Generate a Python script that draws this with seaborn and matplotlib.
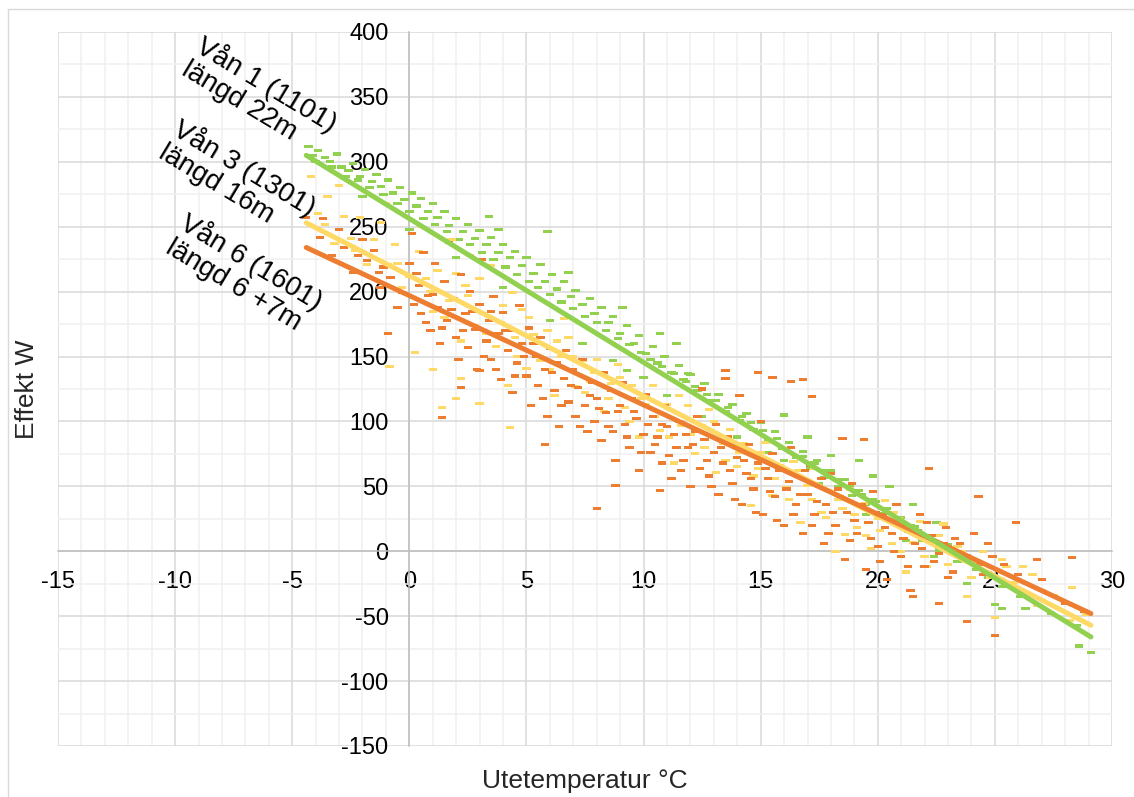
import matplotlib
matplotlib.use("Agg")
import matplotlib.pyplot as plt
from matplotlib.ticker import MultipleLocator
from matplotlib.patches import Rectangle
import pandas as pd
import seaborn as sns

# Mätpunkter (utetemperatur °C, effekt W)
vaan1_points = [
    (-4.3, 312), (-4.1, 305), (-3.9, 309), (-3.6, 303), (-3.4, 300), (-3.1, 306), (-2.9, 296), (-2.6, 293), (-2.4, 299), (-2.1, 289),
    (-1.9, 294), (-1.6, 285), (-1.4, 290), (-1.2, 281), (-0.9, 286), (-0.7, 276), (-0.4, 280), (-0.2, 271), (0.1, 276), (0.3, 266),
    (0.5, 272), (0.8, 262), (1.0, 268), (1.2, 257), (1.5, 262), (1.7, 251), (2.0, 256), (2.3, 246), (2.5, 252), (2.8, 241),
    (3.0, 247), (3.3, 236), (3.5, 242), (3.8, 230), (4.0, 236), (4.3, 226), (4.5, 231), (4.8, 220), (5.0, 226), (5.3, 214),
    (5.6, 221), (5.8, 208), (6.1, 213), (6.3, 202), (6.6, 208), (6.9, 196), (7.1, 201), (7.4, 190), (7.7, 195), (7.9, 183),
    (8.2, 188), (8.5, 176), (8.7, 181), (9.0, 168), (9.3, 174), (9.6, 160), (9.8, 166), (10.1, 152), (10.4, 158), (10.6, 145),
    (10.9, 150), (11.2, 138), (11.5, 143), (11.8, 131), (12.0, 136), (12.3, 124), (12.6, 129), (12.9, 116), (13.2, 121), (13.5, 108),
    (13.8, 113), (14.1, 101), (14.4, 106), (14.7, 94), (15.0, 99), (15.3, 86), (15.6, 92), (15.9, 79), (16.2, 84), (16.5, 72),
    (16.8, 77), (17.1, 64), (17.4, 70), (17.7, 57), (18.0, 62), (18.3, 50), (18.6, 55), (18.9, 43), (19.2, 47), (19.5, 36),
    (19.8, 40), (20.1, 29), (20.4, 33), (20.7, 22), (21.0, 26), (21.3, 15), (21.6, 19), (21.9, 8), (22.2, 12), (22.6, 1),
    (23.0, 5), (23.4, -8), (23.8, -3), (24.2, -14), (24.7, -20), (25.3, -27), (26.1, -35), (27.4, -48), (28.5, -57), (29.1, -78),
    (5.9, 246), (3.4, 258), (25.0, -41), (25.3, -44), (26.3, -44), (23.8, -25), (28.6, -73), (8.7, 147), (9.3, 139), (7.4, 160),
    (6.0, 178), (11.0, 120), (12.5, 104), (14.0, 88), (16.0, 70), (17.5, 52), (18.5, 40), (19.5, 28), (21.2, 8), (22.4, -4),
    (4.0, 203), (2.0, 226), (0.0, 248), (-2.0, 273), (15.3, 76), (13.0, 100), (10.0, 134), (10.7, 168), (11.9, 137), (16.0, 105),
    (17.0, 88), (18.0, 74), (19.2, 70), (20.5, 50), (21.5, 36), (22.5, 22), (19.8, 58),
    (-4.0, 300), (-3.3, 296), (-2.7, 289), (-2.2, 286), (-1.7, 280), (-1.1, 275), (-0.5, 268), (0.0, 262), (0.6, 256), (1.1, 252),
    (1.6, 246), (2.1, 240), (2.6, 236), (3.1, 230), (3.6, 225), (4.1, 219), (4.6, 213), (5.1, 208), (5.5, 203), (6.0, 198),
    (6.5, 192), (7.0, 187), (7.5, 181), (8.0, 176), (8.4, 170), (8.9, 164), (9.4, 159), (9.9, 153), (10.3, 148), (10.8, 142),
    (11.3, 137), (11.7, 132), (12.2, 127), (12.7, 121), (13.1, 116), (13.6, 111), (14.2, 104), (14.6, 99), (15.1, 93), (15.7, 87),
    (16.3, 80), (16.8, 73), (17.3, 68), (17.8, 62), (18.4, 55), (18.8, 50), (19.3, 44), (19.9, 38), (20.3, 32), (20.9, 26),
    (21.4, 20), (21.8, 14), (22.3, 8), (22.9, 2), (23.6, -4), (3.8, 248), (6.8, 215), (9.1, 188), (11.4, 160),
]

vaan3_points = [
    (-4.2, 289), (-3.9, 260), (-3.5, 273), (-3.2, 237), (-2.8, 258), (-2.5, 241), (-2.1, 257), (-1.8, 221), (-1.5, 240), (-1.2, 253),
    (-0.9, 221), (-0.6, 236), (-0.3, 203), (0.0, 212), (0.25, 153), (0.4, 231), (0.7, 210), (1.0, 185), (1.2, 216), (1.4, 111),
    (1.7, 193), (2.0, 214), (2.2, 162), (2.5, 197), (2.8, 174), (3.0, 210), (2.0, 118), (3.4, 181), (3.7, 158), (4.0, 189),
    (4.2, 128), (4.5, 165), (4.8, 186), (5.0, 141), (5.3, 167), (5.6, 147), (5.9, 170), (6.2, 120), (6.5, 150), (6.8, 165),
    (7.1, 127), (7.4, 147), (7.7, 131), (8.0, 148), (8.3, 108), (8.6, 129), (8.9, 144), (9.2, 111), (9.5, 128), (9.8, 88),
    (10.1, 113), (10.4, 128), (10.7, 93), (11.0, 113), (11.3, 68), (11.6, 97), (11.9, 112), (12.2, 75), (12.5, 97), (12.8, 109),
    (13.1, 61), (13.4, 83), (13.7, 94), (14.0, 65), (14.3, 83), (14.6, 35), (14.9, 64), (15.2, 84), (15.5, 43), (15.8, 66),
    (16.1, 49), (16.4, 69), (16.7, 22), (17.0, 51), (17.3, 64), (17.6, 30), (17.9, 47), (18.2, 0), (18.5, 33), (18.8, 48),
    (19.1, 18), (19.4, 37), (19.7, 2), (20.0, 25), (20.3, 39), (20.6, 6), (20.9, 25), (21.2, -16), (21.5, 7), (21.8, 23),
    (22.1, -12), (22.4, 7), (22.8, 21), (23.2, -16), (23.6, 0), (24.0, -20), (24.5, 0), (25.0, -51), (25.5, -12), (26.2, -12),
    (26.8, -42), (27.5, -34), (28.2, -53), (28.9, -49), (23.8, -35), (1.0, 140), (2.2, 133), (3.0, 114), (4.3, 95), (-0.85, 142),
    (18.6, 13), (-3.0, 282), (-1.0, 268), (0.5, 250), (1.8, 240), (2.6, 228), (3.5, 220), (4.4, 199), (6.6, 179), (25.3, -6),
    (28.3, -28), (26.6, -18),
    (-3.6, 252), (-2.3, 232), (-0.5, 222), (0.9, 200), (1.5, 180), (2.4, 205), (3.3, 168), (3.9, 176), (4.6, 150), (5.1, 180),
    (5.5, 160), (6.0, 140), (6.3, 162), (7.0, 150), (7.5, 122), (7.9, 138), (8.5, 118), (9.0, 134), (9.4, 100), (9.9, 118),
    (10.5, 104), (11.1, 88), (11.5, 120), (12.0, 90), (12.6, 80), (13.0, 100), (13.5, 70), (14.1, 76), (14.7, 58), (15.0, 76),
    (15.6, 56), (16.2, 40), (16.6, 62), (17.2, 40), (17.8, 26), (18.3, 40), (19.0, 28), (19.5, 12), (20.1, 16), (20.7, 30),
    (21.0, 0), (21.6, 14), (22.0, -4), (22.6, 12), (23.0, -10), (23.4, 4), (24.2, -8), (24.8, -20), (25.8, -24), (27.0, -30),
]

vaan6_points = [
    (-4.4, 257), (-3.7, 256), (-3.8, 242), (-3.0, 248), (-2.8, 234), (-2.0, 240), (-1.8, 224), (-1.1, 219), (-0.8, 211), (-1.25, 203),
    (-0.3, 199), (-0.5, 188), (-2.4, 215), (-3.3, 228), (-1.5, 232), (-0.9, 168),
    (0.1, 245), (0.3, 214), (0.5, 183), (0.6, 230), (0.8, 197), (0.9, 170), (1.1, 222), (1.2, 188), (1.3, 160), (1.5, 208),
    (1.6, 178), (1.7, 238), (1.9, 195), (2.0, 165), (2.1, 148), (2.2, 213), (2.4, 183), (2.5, 157), (2.6, 200), (2.8, 171),
    (2.9, 140), (3.0, 190), (3.1, 225), (3.3, 162), (3.4, 178), (3.5, 148), (3.6, 196), (3.8, 168), (3.9, 132), (4.0, 184),
    (4.2, 155), (4.3, 170), (4.4, 122), (4.6, 145), (4.7, 189), (4.8, 160), (5.0, 135), (5.1, 172), (5.2, 112), (5.4, 150),
    (5.5, 128), (5.6, 165), (5.8, 140), (5.9, 104), (6.0, 156), (6.2, 124), (6.3, 145), (6.4, 96), (6.6, 133), (6.7, 155),
    (6.8, 115), (7.0, 140), (7.1, 104), (7.2, 126), (7.4, 148), (7.5, 112), (7.6, 92), (7.8, 130), (7.9, 100), (8.0, 118),
    (8.2, 85), (8.3, 138), (8.4, 107), (8.6, 124), (8.7, 92), (8.8, 70), (9.0, 112), (9.1, 130), (9.2, 98), (9.4, 80),
    (9.5, 118), (9.7, 102), (9.8, 62), (10.0, 90), (10.1, 121), (10.3, 76), (10.4, 104), (10.6, 88), (10.8, 68), (10.9, 112),
    (11.0, 96), (11.2, 56), (11.4, 80), (11.5, 100), (11.7, 70), (11.8, 90), (12.0, 50), (12.1, 82), (12.3, 104), (12.4, 64),
    (12.5, 125), (12.6, 86), (12.8, 58), (13.0, 76), (13.1, 98), (13.2, 44), (13.4, 68), (13.5, 133), (13.6, 88), (13.8, 52),
    (14.0, 72), (14.1, 120), (14.2, 36), (14.4, 60), (14.5, 82), (14.7, 48), (14.9, 68), (15.0, 100), (15.1, 28), (15.3, 56),
    (15.5, 75), (15.6, 42), (15.8, 62), (16.0, 20), (16.1, 48), (16.3, 80), (16.5, 36), (16.6, 58), (16.8, 14), (17.0, 44),
    (17.1, 66), (17.3, 28), (17.5, 50), (17.7, 6), (17.8, 36), (18.0, 60), (18.2, 20), (18.4, 42), (18.6, -6), (18.7, 30),
    (18.9, 52), (19.1, 14), (19.3, 36), (19.5, -14), (19.6, 22), (19.8, 46), (20.0, 4), (20.2, 28), (20.4, -22), (20.6, 14),
    (20.8, 36), (21.0, -4), (21.2, 20), (21.4, -30), (21.6, 6), (21.8, 28), (22.0, -12), (22.3, 12), (22.6, -2), (22.9, 18),
    (23.2, -16), (23.5, 6), (23.8, -6), (24.1, 14), (24.5, -18), (24.9, -4), (25.4, -10), (26.0, -18), (27.0, -22), (28.3, -5),
    (28.0, -40), (28.8, -46), (22.2, 64), (24.3, 42), (25.9, 22), (26.8, -6), (25.0, -65), (23.8, -54), (22.6, -40), (21.5, -35),
    (14.9, 138), (13.5, 139), (16.3, 131), (16.8, 132), (15.5, 134), (17.2, 119), (18.5, 87), (19.4, 86), (8.8, 51), (5.8, 82),
    (8.0, 33), (1.4, 103), (2.2, 126), (3.0, 139), (10.7, 47),
    (0.2, 190), (0.4, 205), (0.7, 176), (1.0, 198), (1.4, 172), (1.8, 186), (2.3, 170), (2.7, 185), (3.2, 150), (3.5, 185),
    (3.7, 140), (4.1, 170), (4.5, 135), (4.9, 150), (5.3, 160), (5.7, 118), (6.1, 138), (6.5, 112), (6.9, 128), (7.3, 96),
    (7.7, 120), (8.1, 110), (8.5, 96), (8.9, 108), (9.3, 88), (9.6, 108), (9.9, 76), (10.2, 98), (10.5, 82), (10.8, 98),
    (11.1, 74), (11.3, 90), (11.6, 62), (11.9, 80), (12.2, 92), (12.7, 70), (12.9, 50), (13.3, 80), (13.7, 62), (13.9, 40),
    (14.3, 70), (14.6, 56), (14.8, 30), (15.2, 64), (15.4, 46), (15.7, 24), (16.2, 54), (16.4, 28), (16.7, 44), (16.9, 62),
    (17.2, 20), (17.4, 38), (17.6, 56), (17.9, 14), (18.1, 30), (18.3, 48), (18.8, 8), (19.0, 24), (19.2, 44), (19.7, 10),
    (19.9, 30), (20.1, -8), (20.3, 18), (20.7, 0), (20.9, 24), (21.1, 10), (21.3, -12), (21.7, 16), (21.9, 2), (22.1, 22),
    (22.4, -8), (22.8, 6), (23.0, -20), (23.3, 10), (23.7, -4), (24.3, -10), (24.7, 6), (0.0, 222), (-1.3, 215), (-2.2, 228),
]

# Trendlinjer (start- och slutpunkt)
trend_x = [-4.4, 29.1]
vaan1_trend = [305, -66]
vaan3_trend = [253, -57]
vaan6_trend = [234, -48]

series_labels = ["Vån 1 (1101)\nlängd 22m", "Vån 3 (1301)\nlängd 16m", "Vån 6 (1601)\nlängd 6 +7m"]
colors = {"Vån 1": "#92D050", "Vån 3": "#FFD966", "Vån 6": "#ED7D31"}

sns.set_theme(style="white")
plt.rcParams["font.family"] = ["Liberation Sans", "DejaVu Sans"]
plt.rcParams["axes.unicode_minus"] = False

fig = plt.figure(figsize=(11.34, 7.97), dpi=100)
ax = fig.add_axes([58 / 1134, 1 - 746 / 797, 1054 / 1134, 714 / 797])

# liten streckmarkör som i Excel
dash = [(-3.5, -1.3), (3.5, -1.3), (3.5, 1.3), (-3.5, 1.3)]

for name, pts in [("Vån 1", vaan1_points), ("Vån 3", vaan3_points), ("Vån 6", vaan6_points)]:
    df = pd.DataFrame(pts, columns=["temp", "effekt"])
    sns.scatterplot(data=df, x="temp", y="effekt", marker=dash, s=36,
                    color=colors[name], edgecolor="none", linewidth=0, ax=ax, zorder=2)

for name, ys in [("Vån 3", vaan3_trend), ("Vån 6", vaan6_trend), ("Vån 1", vaan1_trend)]:
    sns.lineplot(x=trend_x, y=ys, color=colors[name], linewidth=3.6,
                 solid_capstyle="round", ax=ax, zorder=3)

ax.set_xlim(-15, 30)
ax.set_ylim(-150, 400)
ax.xaxis.set_major_locator(MultipleLocator(5))
ax.xaxis.set_minor_locator(MultipleLocator(1))
ax.yaxis.set_major_locator(MultipleLocator(50))
ax.yaxis.set_minor_locator(MultipleLocator(25))
ax.set_axisbelow(True)
ax.grid(True, which="major", color="#D9D9D9", linewidth=1.1)
ax.grid(True, which="minor", color="#F0F0F0", linewidth=1.1)

for s in ["top", "right"]:
    ax.spines[s].set_visible(False)
ax.spines["left"].set_position(("data", 0))
ax.spines["bottom"].set_position(("data", 0))
for s in ["left", "bottom"]:
    ax.spines[s].set_color("#BFBFBF")
    ax.spines[s].set_linewidth(1.1)
    ax.spines[s].set_zorder(1)

ax.tick_params(which="major", direction="out", length=4, width=1, color="#BFBFBF",
               labelsize=17, labelcolor="black")
ax.tick_params(axis="x", which="major", pad=10)
ax.tick_params(axis="y", which="major", pad=11)
ax.tick_params(which="minor", length=0)
ax.set_xlabel("")
ax.set_ylabel("")

# rotade serieetiketter
label_pos = [(-8.7, 401), (-9.65, 337), (-9.35, 264)]
for (lx, ly), txt in zip(label_pos, series_labels):
    ax.text(lx, ly, txt, rotation=-31, rotation_mode="anchor", ha="left", va="top",
            fontsize=20, linespacing=1.05, multialignment="left", color="black",
            clip_on=False, zorder=4)

fig.text(585 / 1134, 1 - 788 / 797, "Utetemperatur °C", ha="center", va="baseline", fontsize=19)
fig.text(27.5 / 1134, 1 - 389 / 797, "Effekt W", ha="center", va="center", rotation=90, fontsize=19)

fig.add_artist(Rectangle((8 / 1134, -0.1), 1.2, 1 - 9 / 797 + 0.1, transform=fig.transFigure,
                         fill=False, edgecolor="#D9D9D9", linewidth=1))

fig.savefig("out.png", dpi=100)
